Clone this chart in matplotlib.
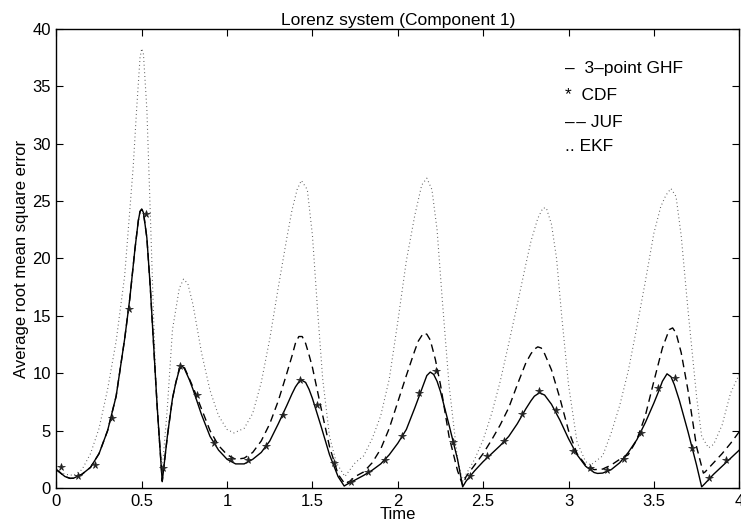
import matplotlib
matplotlib.use("Agg")
import matplotlib.pyplot as plt

plt.rcParams["font.family"] = ["Liberation Sans", "DejaVu Sans"]

# 3-point GHF (solid)
ghf_t = [0.00, 0.05, 0.08, 0.10, 0.15, 0.20, 0.25, 0.30, 0.35, 0.38, 0.40, 0.43, 0.46,
         0.48, 0.49, 0.50, 0.51, 0.53, 0.55, 0.59, 0.62, 0.65, 0.68, 0.70, 0.72,
         0.735, 0.75, 0.78, 0.80, 0.85, 0.90, 0.95, 1.00, 1.05, 1.10, 1.15, 1.20,
         1.25, 1.30, 1.35, 1.38, 1.40, 1.43, 1.46, 1.48, 1.50, 1.55, 1.60, 1.65,
         1.686, 1.70, 1.75, 1.80, 1.85, 1.90, 1.95, 2.00, 2.05, 2.10, 2.15, 2.17,
         2.19, 2.21, 2.23, 2.25, 2.30, 2.35, 2.38, 2.40, 2.45, 2.50, 2.55, 2.60,
         2.65, 2.70, 2.75, 2.78, 2.80, 2.83, 2.86, 2.88, 2.90, 2.95, 3.00, 3.05,
         3.10, 3.15, 3.17, 3.20, 3.25, 3.30, 3.35, 3.40, 3.45, 3.50, 3.53, 3.55,
         3.577, 3.60, 3.62, 3.65, 3.70, 3.75, 3.78, 3.80, 3.85, 3.90, 3.95, 4.00]
ghf_v = [1.6, 1.0, 0.84, 0.85, 1.2, 1.8, 3.0, 5.0, 8.0, 11.0, 13.0, 16.5, 20.8,
         23.3, 24.1, 24.3, 24.0, 21.8, 17.5, 7.2, 0.55, 4.5, 7.8, 9.2, 10.3,
         10.65, 10.4, 9.4, 8.6, 6.4, 4.5, 3.3, 2.5, 2.1, 2.1, 2.5, 3.1,
         4.1, 5.6, 7.2, 8.2, 8.8, 9.45, 9.2, 8.6, 7.8, 5.4, 2.9, 1.0,
         0.17, 0.3, 0.7, 1.1, 1.55, 2.1, 2.9, 3.9, 5.1, 7.0, 9.0, 9.8,
         10.1, 9.9, 9.3, 8.4, 5.5, 2.5, 0.1, 0.6, 1.5, 2.3, 3.0, 3.7,
         4.5, 5.6, 6.9, 7.6, 8.0, 8.3, 8.1, 7.7, 7.3, 5.9, 4.3, 2.9,
         1.9, 1.35, 1.27, 1.3, 1.6, 2.2, 3.1, 4.2, 5.7, 7.4, 8.5, 9.3,
         9.95, 9.7, 9.0, 7.6, 4.9, 2.0, 0.1, 0.4, 1.2, 1.9, 2.6, 3.3]

# JUF (dashed)
juf_t = [0.00, 0.05, 0.08, 0.10, 0.15, 0.20, 0.25, 0.30, 0.35, 0.38, 0.40, 0.43, 0.46,
         0.48, 0.49, 0.50, 0.51, 0.53, 0.55, 0.59, 0.62, 0.65, 0.68, 0.70, 0.72,
         0.735, 0.75, 0.80, 0.85, 0.90, 0.95, 1.00, 1.05, 1.10, 1.15, 1.20, 1.25,
         1.30, 1.35, 1.38, 1.40, 1.42, 1.44, 1.46, 1.48, 1.50, 1.55, 1.60, 1.65,
         1.69, 1.72, 1.75, 1.80, 1.85, 1.90, 1.95, 2.00, 2.05, 2.10, 2.12, 2.15,
         2.17, 2.19, 2.22, 2.25, 2.30, 2.35, 2.38, 2.40, 2.45, 2.50, 2.55, 2.60,
         2.65, 2.70, 2.75, 2.78, 2.80, 2.82, 2.84, 2.86, 2.90, 2.95, 3.00, 3.05,
         3.10, 3.15, 3.20, 3.25, 3.30, 3.35, 3.40, 3.45, 3.50, 3.55, 3.57, 3.59,
         3.61, 3.63, 3.66, 3.70, 3.75, 3.79, 3.80, 3.85, 3.90, 3.95, 4.00]
juf_v = [1.6, 1.0, 0.84, 0.85, 1.2, 1.8, 3.0, 5.0, 8.0, 11.0, 13.0, 16.5, 20.8,
         23.3, 24.1, 24.3, 24.0, 21.8, 17.5, 7.2, 0.6, 4.5, 7.8, 9.2, 10.4,
         10.7, 10.5, 8.8, 6.9, 5.0, 3.7, 2.9, 2.5, 2.6, 3.1, 4.1, 5.6,
         7.6, 10.0, 11.5, 12.6, 13.2, 13.2, 12.6, 11.6, 10.5, 7.0, 3.6, 1.2,
         0.35, 0.6, 1.0, 1.4, 2.2, 3.4, 5.2, 7.5, 9.8, 12.0, 12.8, 13.5,
         13.4, 12.9, 11.2, 9.0, 4.5, 1.5, 0.25, 1.0, 2.0, 3.0, 4.2, 5.5,
         7.0, 9.0, 10.9, 11.7, 12.1, 12.3, 12.2, 11.7, 10.3, 7.8, 5.0, 3.0,
         2.0, 1.6, 1.65, 2.0, 2.5, 2.9, 4.2, 6.3, 9.3, 12.2, 13.0, 13.8,
         13.95, 13.5, 11.8, 8.5, 3.6, 1.3, 1.4, 2.2, 3.0, 3.9, 4.9]

# EKF (dotted)
ekf_t = [0.00, 0.05, 0.10, 0.15, 0.20, 0.25, 0.30, 0.35, 0.40, 0.45, 0.47, 0.49,
         0.50, 0.51, 0.53, 0.55, 0.58, 0.60, 0.62, 0.65, 0.68, 0.72, 0.745, 0.77,
         0.80, 0.85, 0.90, 0.95, 1.00, 1.04, 1.10, 1.15, 1.20, 1.25, 1.30, 1.35,
         1.38, 1.41, 1.435, 1.47, 1.50, 1.53, 1.56, 1.60, 1.64, 1.69, 1.75, 1.80,
         1.85, 1.90, 1.95, 2.00, 2.05, 2.10, 2.14, 2.17, 2.20, 2.23, 2.26, 2.30,
         2.35, 2.38, 2.40, 2.45, 2.50, 2.55, 2.60, 2.65, 2.70, 2.75, 2.78, 2.82,
         2.85, 2.87, 2.90, 2.93, 2.96, 3.00, 3.05, 3.10, 3.13, 3.20, 3.25, 3.30,
         3.35, 3.40, 3.45, 3.50, 3.54, 3.57, 3.60, 3.63, 3.66, 3.70, 3.75, 3.78,
         3.82, 3.85, 3.90, 3.93, 3.95, 4.00]
ekf_v = [1.5, 1.2, 1.1, 1.6, 3.0, 5.2, 8.6, 12.8, 18.5, 28.0, 33.0, 37.5,
         38.3, 37.8, 33.0, 24.0, 10.0, 4.5, 1.6, 7.0, 13.8, 17.4, 18.2, 17.8,
         16.0, 11.8, 8.5, 6.3, 5.1, 4.8, 5.2, 6.5, 9.2, 13.0, 17.5, 21.8,
         24.2, 26.0, 26.8, 26.0, 22.0, 15.5, 9.5, 4.5, 2.2, 1.0, 2.2, 2.8,
         4.3, 6.3, 9.5, 14.5, 19.8, 23.8, 26.4, 27.0, 26.0, 22.5, 16.5, 9.0,
         2.5, 0.6, 1.2, 2.5, 4.2, 6.5, 9.3, 12.6, 16.0, 19.5, 21.5, 23.5,
         24.4, 24.4, 23.0, 20.0, 15.0, 9.0, 4.0, 2.3, 2.0, 2.8, 4.8, 7.2,
         10.2, 14.0, 18.0, 22.2, 24.5, 25.5, 26.1, 25.4, 22.0, 15.5, 8.0, 4.5,
         3.5, 3.8, 5.5, 7.2, 8.3, 9.9]

# CDF (stars)
cdf_t = [0.025, 0.125, 0.225, 0.325, 0.425, 0.525, 0.625, 0.725, 0.825, 0.925,
         1.025, 1.125, 1.225, 1.325, 1.425, 1.525, 1.625, 1.725, 1.825, 1.925,
         2.025, 2.125, 2.225, 2.325, 2.425, 2.525, 2.625, 2.725, 2.825, 2.925,
         3.025, 3.125, 3.225, 3.325, 3.425, 3.525, 3.625, 3.725, 3.825, 3.925]
cdf_v = [1.8, 1.07, 2.0, 6.07, 15.6, 23.9, 1.7, 10.6, 8.1, 3.95,
         2.5, 2.45, 3.66, 6.36, 9.41, 7.23, 2.15, 0.5, 1.37, 2.44,
         4.56, 8.3, 10.2, 3.98, 1.05, 2.79, 4.13, 6.45, 8.48, 6.8,
         3.2, 1.7, 1.6, 2.5, 4.82, 8.74, 9.6, 3.5, 0.9, 2.4]

legend_labels = ["\u2013  3\u2013point GHF", "*  CDF", "\u2013\u200a\u2013 JUF", ".. EKF"]

fig = plt.figure(figsize=(7.41, 5.29), dpi=100)
ax = fig.add_axes([0.0761, 0.0775, 0.9215, 0.8677])

ax.plot(ekf_t, ekf_v, color="#555555", lw=0.8, dashes=(0.8, 2.6))
ax.plot(juf_t, juf_v, color="black", lw=1.0, dashes=(5.5, 3.5))
ax.plot(ghf_t, ghf_v, color="black", lw=1.0)
ax.plot(cdf_t, cdf_v, ls="none", marker="*", ms=5.5, color="#222222",
        markeredgewidth=0.5)

ax.set_xlim(0, 4)
ax.set_ylim(0, 40)
ax.set_xticks([0, 0.5, 1, 1.5, 2, 2.5, 3, 3.5, 4])
ax.set_xticklabels(["0", "0.5", "1", "1.5", "2", "2.5", "3", "3.5", "4"])
ax.set_yticks(range(0, 41, 5))
ax.tick_params(direction="in", top=True, right=True, length=5, width=0.8,
               labelsize=12, pad=4)
for s in ax.spines.values():
    s.set_linewidth(1.0)

ax.set_title("Lorenz system (Component 1)", fontsize=12.5, pad=3)
ax.set_xlabel("Time", fontsize=12, labelpad=-1)
ax.set_ylabel("Average root mean square error", fontsize=12, labelpad=2)

# MATLAB-style text legend
ys = [0.915, 0.856, 0.797, 0.743]
for lab, y in zip(legend_labels, ys):
    ax.text(0.745, y, lab, transform=ax.transAxes, fontsize=12.5, va="center")

fig.savefig("out.png", dpi=100)
